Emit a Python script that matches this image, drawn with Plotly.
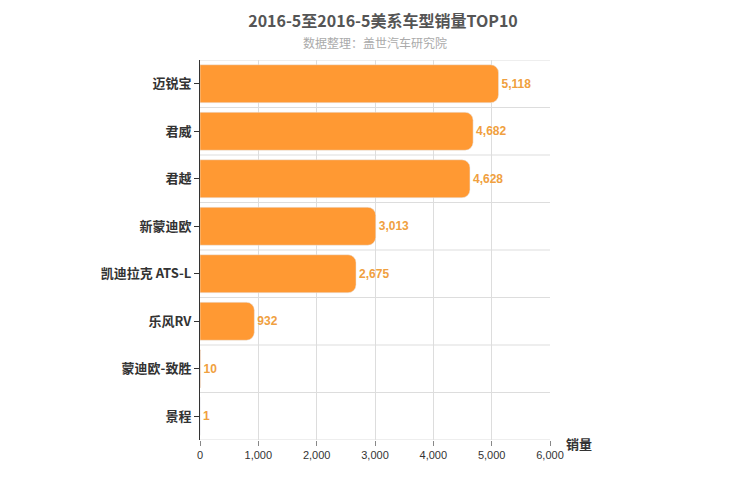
import plotly.graph_objects as go

models = ["迈锐宝", "君威", "君越", "新蒙迪欧", "凯迪拉克 ATS-L", "乐风RV", "蒙迪欧-致胜", "景程"]
sales = [5118, 4682, 4628, 3013, 2675, 932, 10, 1]

fig = go.Figure()
fig.add_trace(go.Bar(
    x=sales, y=["<b>%s</b>" % m for m in models], orientation="h",
    marker=dict(color="#ff9933", cornerradius=8),
    width=0.8,
    text=[f"<b>{v:,}</b>" for v in sales], textposition="outside",
    textfont=dict(color="#f0a040", size=12, family="Arial"),
    cliponaxis=False,
))

# horizontal separators between categories
for i in range(len(models) + 1):
    fig.add_shape(type="line", xref="x", yref="y", x0=0, x1=6000,
                  y0=i - 0.5, y1=i - 0.5, line=dict(color="#dddddd", width=1), layer="below")

fig.update_layout(
    width=750, height=500,
    plot_bgcolor="white", paper_bgcolor="white",
    margin=dict(l=192, r=208, t=52, b=68),
    font=dict(family="Noto Sans CJK SC", color="#333"),
    title=dict(text="<b>2016-5至2016-5美系车型销量TOP10</b>", x=0.5, y=0.985,
               xanchor="center", font=dict(size=16, color="#555")),
    showlegend=False,
    annotations=[
        dict(text="数据整理：盖世汽车研究院", xref="paper", yref="paper", x=0.5, y=1.075,
             showarrow=False, font=dict(size=12, color="#aaa")),
        dict(text="<b>销量</b>", xref="paper", yref="paper", x=1.04, y=-0.01,
             xanchor="left", yanchor="middle", showarrow=False, font=dict(size=13, color="#333")),
    ],
)
fig.update_xaxes(range=[0, 6000], dtick=1000, tickformat=",", gridcolor="#dddddd",
                 zeroline=False, ticks="outside", tickcolor="#888", tickfont=dict(size=11, family="Arial"))
fig.update_yaxes(showline=True, linecolor="#333", linewidth=1,
                 ticks="outside", tickcolor="#333", tickfont=dict(size=13),
                 range=[len(models) - 0.5, -0.5])

fig.write_html("out.html")
